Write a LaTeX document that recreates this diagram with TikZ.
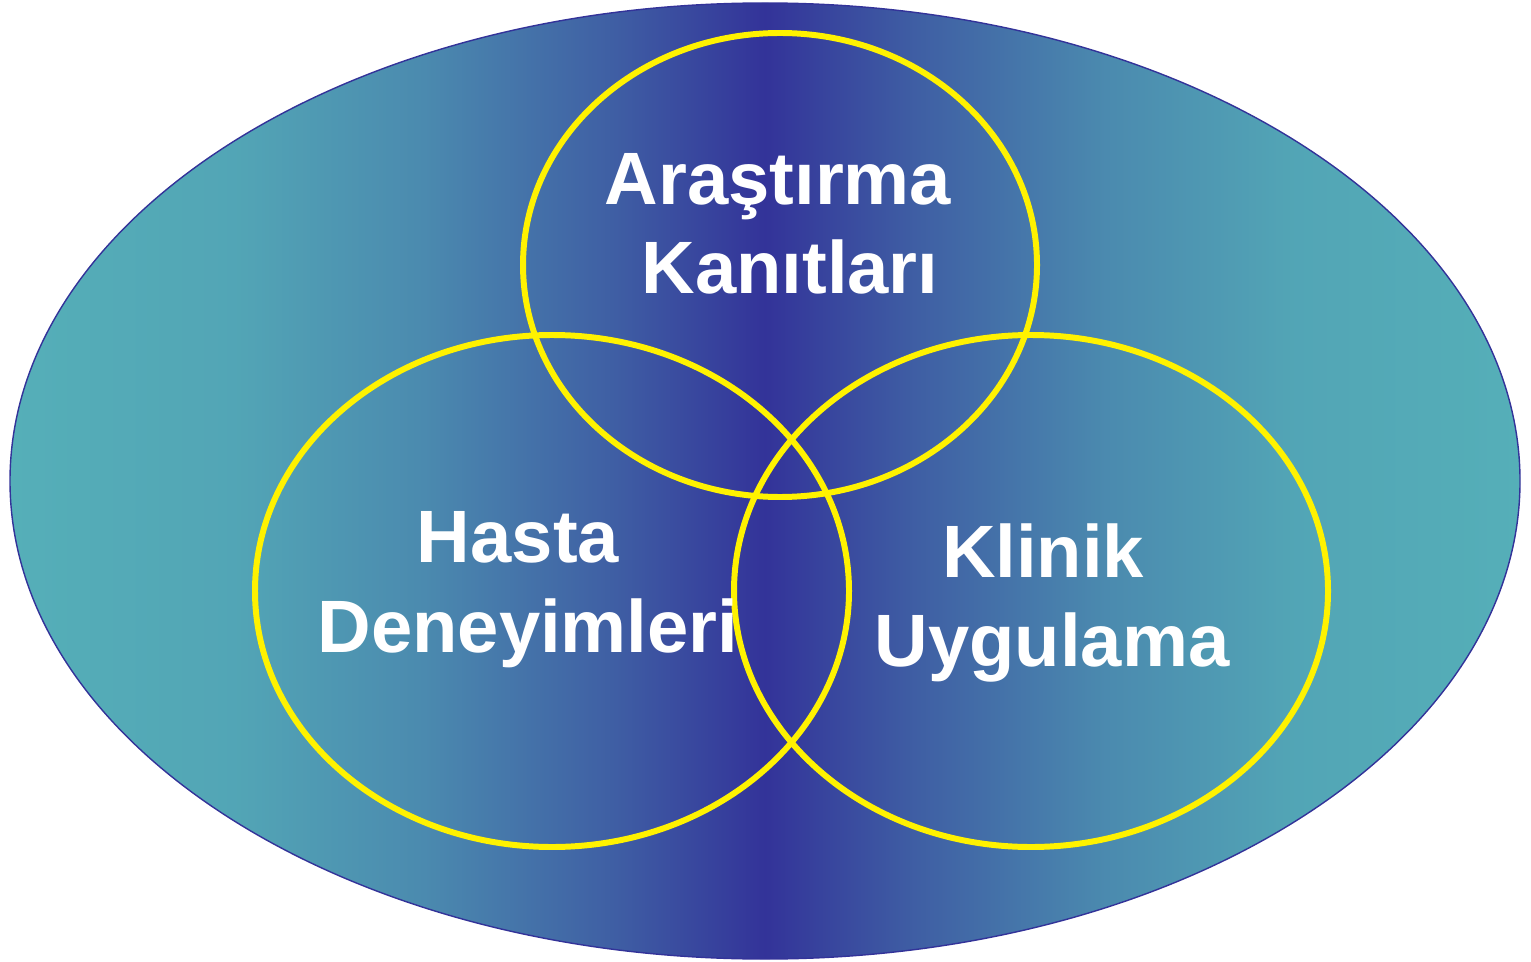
\documentclass[tikz,border=0pt]{standalone}
\usepackage{fontspec}
\setmainfont{Liberation Sans}
\usepackage{tikz}

\definecolor{teal1}{HTML}{55AFB8}
\definecolor{navy1}{HTML}{333399}
\pgfdeclarehorizontalshading{bgshade}{100bp}{color(0bp)=(teal1); color(25bp)=(teal1);
  color(32.5bp)=(teal1!92!navy1); color(38.75bp)=(teal1!70!navy1); color(45bp)=(teal1!35!navy1);
  color(50bp)=(navy1); color(55bp)=(teal1!35!navy1); color(61.25bp)=(teal1!70!navy1);
  color(67.5bp)=(teal1!92!navy1); color(75bp)=(teal1); color(100bp)=(teal1)}

\begin{document}
\begin{tikzpicture}[x=0.01cm, y=-0.01cm]
                \tikzstyle{ring}=[draw=yellow, line width=1.7pt]
                \tikzstyle{word}=[anchor=base, inner sep=0pt, text=white, font=\bfseries\fontsize{21.1}{25}\selectfont]

                    \useasboundingbox (0,0) rectangle (1531,961);

                    % Fundo
                    \path[draw=navy1, line width=0.4pt, shading=bgshade]
                        (765,481) ellipse [x radius=755, y radius=478];

                    % Círculos
                    \draw[ring] (780,265) ellipse [x radius=257, y radius=232];
                    \draw[ring] (552,591) ellipse [x radius=297, y radius=256];
                    \draw[ring] (1031,591) ellipse [x radius=297, y radius=256];

                    % Textos
                    \node[word] (ar1) at (778,205) {Araştırma};
                    \node[word] (ar2) at (790,294) {Kanıtları};
                    \node[word] (ha1) at (518,562) {Hasta};
                    \node[word] (ha2) at (528,652) {Deneyimleri};
                    \node[word] (kl1) at (1043,577) {Klinik};
                    \node[word] (kl2) at (1052,666) {Uygulama};

            \end{tikzpicture}
\end{document}
